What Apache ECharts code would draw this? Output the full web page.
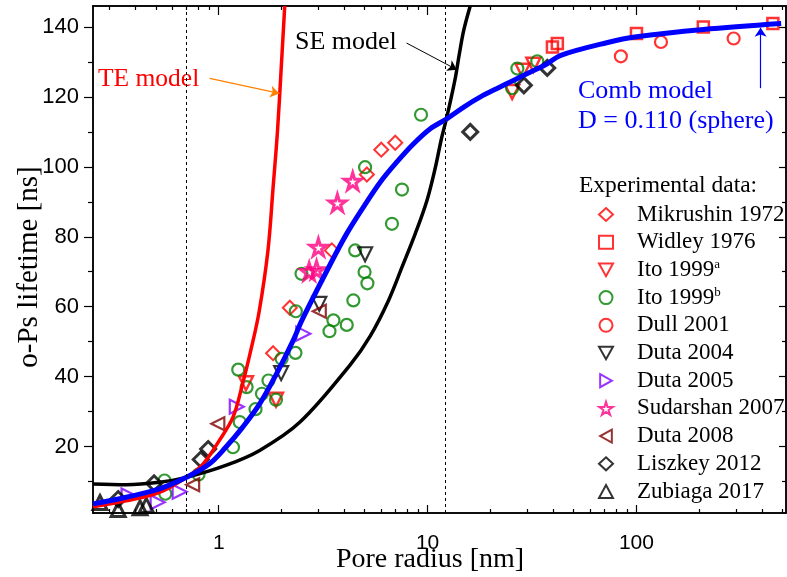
<!DOCTYPE html>
<html>
<head>
<meta charset="utf-8">
<script src="https://cdn.jsdelivr.net/npm/echarts@6/dist/echarts.min.js"></script>
<style>
  html, body { margin: 0; padding: 0; background: #fff; }
  #chart { width: 787px; height: 577px; }
</style>
</head>
<body>
<div id="chart"></div>
<script>
// pore radius [nm], o-Ps lifetime [ns]
const mikrushin = [[1.82, 46.7], [2.19, 59.7], [3.48, 76.1], [5.12, 97.8], [6.0, 104.9], [7.0, 106.9]]
const widley = [[39.6, 134.3], [41.8, 135.3], [100, 138.1], [209, 140], [450, 141]]
const itoA = [[1.35, 38.1], [1.88, 33.4], [25.4, 121.4], [28.5, 127.5], [32.1, 129.2]]
const itoB = [
  [0.55, 10.3], [0.555, 6.5], [0.80, 12], [1.17, 19.8], [1.24, 42], [1.26, 27], [1.36, 37],
  [1.50, 30.7], [1.61, 35.1], [1.73, 38.9], [1.88, 33.4], [2.0, 45.1], [2.33, 46.8], [2.34, 58.7],
  [2.49, 69.4], [3.39, 53], [3.54, 56.1], [4.1, 54.8], [4.41, 61.8], [4.5, 76.1], [4.99, 69.9],
  [5.15, 66.7], [5.02, 99.9], [6.75, 83.7], [7.54, 93.5], [9.3, 114.9], [25.4, 122.5],
  [26.9, 128.1], [33.5, 130.2]
]
const dull = [[84.2, 131.6], [131, 135.7], [292, 136.7]]
const duta2004 = [[1.99, 41], [3.03, 60.8], [5.02, 75]]
const duta2005 = [[0.37, 6], [0.51, 4.1], [0.65, 7.1], [1.22, 31.4], [2.54, 52.3]]
const sudarshan = [[2.71, 70.1], [2.94, 70.6], [3.0, 77], [3.7, 89.7], [4.38, 95.9]]
const duta2008 = [[0.75, 9.1], [0.99, 26.5], [3.03, 58.7]]
const liszkey = [[0.33, 5], [0.49, 9.5], [0.82, 16.3], [0.89, 19.3], [16, 110], [28.9, 123.3], [37.4, 128.3]]
const zubiaga = [[0.27, 4], [0.33, 2], [0.42, 2.5], [0.45, 3.2]]

// model curves
const teModel = [
  [0.25, 2.8], [0.36, 4.5], [0.52, 6.9], [0.70, 11.2], [0.84, 15], [1.0, 21.5], [1.17, 28.4],
  [1.3, 37.9], [1.43, 48], [1.56, 58.5], [1.72, 76], [1.82, 94], [1.91, 110], [1.99, 128], [2.07, 146]
]
const seModel = [
  [0.25, 9.3], [0.36, 9.1], [0.52, 9.8], [0.70, 11.2], [1.08, 14.6], [1.57, 18.9], [2.45, 27],
  [4.25, 43.3], [5.31, 51.6], [6.5, 61.8], [7.54, 71.3], [8.73, 80.9], [9.93, 90.4], [10.9, 99.9],
  [11.6, 107.6], [12.25, 113.3], [12.95, 119.6], [13.6, 125.7], [14.2, 132.4], [14.9, 139.1], [16.0, 146]
]
const combModel = [
  [0.25, 3.6], [0.36, 5.5], [0.52, 7.9], [0.70, 11.2], [0.90, 15.0], [1.08, 19.8], [1.30, 25.5],
  [1.57, 32.2], [1.89, 40.8], [2.27, 50.3], [2.5, 56.1], [3.41, 72], [4.10, 80.9], [4.93, 88.5],
  [5.93, 95.6], [7.13, 101.4], [8.57, 106.6], [10.3, 110.9], [12.4, 113.8], [14.9, 117.1],
  [17.9, 120], [21.5, 122.4], [25.9, 124.8], [31.1, 127.1], [37.4, 129.5], [43.4, 131.9],
  [72, 135.5], [100, 137.2], [209, 139.3], [493, 141]
]

// annotations
const dashedAt = [0.7, 12.2]
const teArrow = [[0.905, 125.3], [1.95, 121]]
const seArrow = [[7.93, 135.4], [13.8, 127.8]]
const combArrow = [[393, 122.5], [393, 139.8]]

// ticks
const xMajor = [1, 10, 100]
const xMinor = [0.3, 0.4, 0.5, 0.6, 0.7, 0.8, 0.9, 2, 3, 4, 5, 6, 7, 8, 9, 20, 30, 40, 50, 60, 70, 80, 90, 200, 300, 400, 500]
const yMajor = [20, 40, 60, 80, 100, 120, 140]
const yMinor = [10, 30, 50, 70, 90, 110, 130]

const X_MIN = 0.25, X_MAX = 520, Y_MIN = 1, Y_MAX = 146
const SERIF = '"Liberation Serif", "Times New Roman", serif'
const SANS = '"Liberation Sans", Arial, sans-serif'

const chart = echarts.init(document.getElementById('chart'))

const xAx = (pos, ticks, len, labels) => ({
  type: 'log', logBase: 10, min: X_MIN, max: X_MAX, position: pos,
  axisLine: { show: true, onZero: false, lineStyle: { color: '#000', width: 1.5 } },
  axisTick: { show: true, inside: true, length: len, customValues: ticks, lineStyle: { color: '#000', width: 1.2 } },
  axisLabel: labels
    ? { show: true, customValues: labels, margin: 20, color: '#000', fontFamily: SANS, fontSize: 21 }
    : { show: false, customValues: ticks },
  splitLine: { show: false }
})

const yAx = (pos, ticks, len, inside, labels) => ({
  type: 'value', min: Y_MIN, max: Y_MAX, position: pos,
  axisLine: { show: true, onZero: false, lineStyle: { color: '#000', width: 1.5 } },
  axisTick: { show: true, inside: inside, length: len, customValues: ticks, lineStyle: { color: '#000', width: 1.2 } },
  axisLabel: labels
    ? { show: true, customValues: labels, margin: 14, color: '#000', fontFamily: SANS, fontSize: 22 }
    : { show: false, customValues: ticks },
  splitLine: { show: false }
})

// marker shapes
const starPath = 'path://M50,0 L61,35 L98,35 L68,57 L79,91 L50,70 L21,91 L32,57 L2,35 L39,35 Z'
const triDown = 'path://M0,0 L20,0 L10,18 Z'
const triRight = 'path://M0,0 L18,10 L0,20 Z'
const triLeft = 'path://M18,0 L0,10 L18,20 Z'

const scatter = (name, data, symbol, size, color, bw) => ({
  name, type: 'scatter', data, symbol, symbolSize: size, z: 2,
  itemStyle: { color: 'transparent', borderColor: color, borderWidth: bw }
})

const curve = (name, data, color, width) => ({
  name, type: 'line', data, smooth: 0.35, showSymbol: false, z: 3, clip: true,
  lineStyle: { color, width }, itemStyle: { color }
})

const arrow = (pts, color, width) => ({
  silent: true, symbol: ['none', 'arrow'], symbolSize: 9, label: { show: false },
  lineStyle: { color, width, type: 'solid' },
  data: [[{ coord: pts[0] }, { coord: pts[1] }]]
})

const seriesList = [
  scatter('Mikrushin 1972', mikrushin, 'diamond', 14, '#ff0000', 2),
  scatter('Widley 1976', widley, 'rect', 11, '#ff0000', 2.5),
  scatter('Ito 1999a', itoA, triDown, 14, '#ff0000', 2.5),
  scatter('Ito 1999b', itoB, 'circle', 12, '#008000', 2.2),
  scatter('Dull 2001', dull, 'circle', 12, '#ff0000', 2.2),
  scatter('Duta 2004', duta2004, triDown, 14, '#000000', 2.2),
  scatter('Duta 2005', duta2005, triRight, 14, '#8000ff', 2.2),
  scatter('Sudarshan 2007', sudarshan, starPath, 17, '#ff0080', 3),
  scatter('Duta 2008', duta2008, triLeft, 13, '#800000', 2.2),
  scatter('Liszkey 2012', liszkey, 'diamond', 15, '#000000', 3),
  scatter('Zubiaga 2017', zubiaga, 'triangle', 14, '#000000', 3)
]
seriesList[1].markLine = arrow(combArrow, '#0000ff', 1.2)

const te = curve('TE model', teModel, '#ff0000', 3.5)
te.markLine = arrow(teArrow, '#ff8000', 1.2)
const se = curve('SE model', seModel, '#000000', 3.5)
se.markLine = arrow(seArrow, '#000000', 1)
const comb = curve('Comb model', combModel, '#0000ff', 5)
comb.markLine = {
  silent: true, symbol: 'none', label: { show: false },
  lineStyle: { color: '#000', width: 1, type: [3, 3] },
  data: dashedAt.map(v => ({ xAxis: v }))
}

const option = {
  animation: false,
  grid: { left: 93, right: 1, top: 6, bottom: 64, outerBoundsMode: 'none', containLabel: false },
  xAxis: [
    xAx('bottom', xMajor, 8, xMajor),
    xAx('bottom', xMinor, 4),
    xAx('top', xMajor, 9),
    xAx('top', xMinor, 4)
  ],
  yAxis: [
    yAx('left', yMajor, 9, false, yMajor),
    yAx('left', yMinor, 5, false),
    yAx('right', yMajor, 7, true),
    yAx('right', yMinor, 4, true)
  ],
  legend: {
    orient: 'vertical', left: 593, top: 198,
    itemWidth: 14, itemHeight: 13, itemGap: 4.7,
    data: seriesList.map(s => s.name),
    formatter: n => n === 'Ito 1999a' ? 'Ito 1999{sup|a}' : n === 'Ito 1999b' ? 'Ito 1999{sup|b}' : n,
    textStyle: {
      fontFamily: SERIF, fontSize: 23, color: '#000', lineHeight: 23, padding: [0, 0, 0, 19],
      rich: { sup: { fontFamily: SERIF, fontSize: 13, color: '#000', padding: [0, 0, 10, 0] } }
    }
  },
  graphic: [
    { type: 'text', left: 579, top: 174, style: { text: 'Experimental data:', font: '23.5px ' + SERIF, fill: '#000' } },
    { type: 'text', left: 98, top: 66, style: { text: 'TE model', font: '25.5px ' + SERIF, fill: '#ff0000' } },
    { type: 'text', left: 295, top: 29, style: { text: 'SE model', font: '26px ' + SERIF, fill: '#000' } },
    { type: 'text', left: 578, top: 78, style: { text: 'Comb model', font: '26px ' + SERIF, fill: '#0000ff' } },
    { type: 'text', left: 578, top: 108, style: { text: 'D = 0.110 (sphere)', font: '26px ' + SERIF, fill: '#0000ff' } },
    {
      type: 'text', x: 430, y: 560,
      style: { text: 'Pore radius [nm]', font: '28px ' + SERIF, fill: '#000', align: 'center', verticalAlign: 'middle' }
    },
    {
      type: 'text', x: 29, y: 267, rotation: Math.PI / 2,
      style: { text: 'o-Ps lifetime [ns]', font: '29px ' + SERIF, fill: '#000', align: 'center', verticalAlign: 'middle' }
    }
  ],
  series: [...seriesList, te, se, comb]
}

chart.setOption(option)
</script>
</body>
</html>
